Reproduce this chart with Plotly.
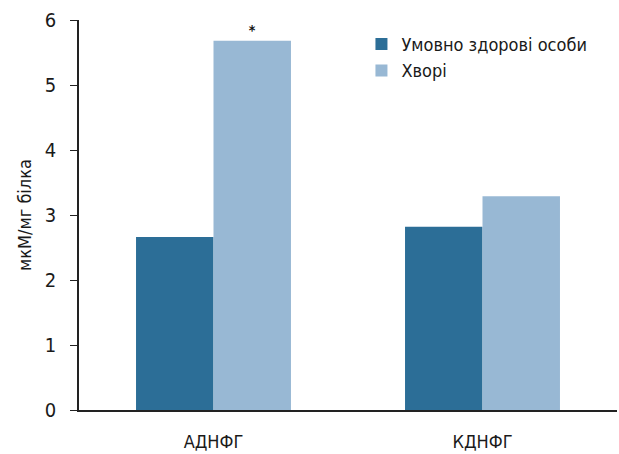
import plotly.graph_objects as go

categories = ["АДНФГ", "КДНФГ"]
healthy = [2.66, 2.82]
patients = [5.68, 3.29]
series_names = ["Умовно здорові особи", "Хворі"]
y_ticks = [0, 1, 2, 3, 4, 5, 6]

FONT = "DejaVu Sans Condensed, Liberation Sans Narrow, sans-serif"

fig = go.Figure()
fig.add_trace(go.Bar(x=categories, y=healthy, name=series_names[0],
                     marker=dict(color="#2c6e97", line=dict(width=0))))
fig.add_trace(go.Bar(x=categories, y=patients, name=series_names[1],
                     marker=dict(color="#98b8d4", line=dict(width=0)),
                     text=["<b>*</b>", ""], textposition="outside",
                     textfont=dict(size=14, color="#111111"),
                     cliponaxis=False))

fig.update_layout(
    width=619, height=454,
    margin=dict(l=79, r=2, t=20, b=44),
    paper_bgcolor="white", plot_bgcolor="white",
    barmode="group", bargap=0.424, bargroupgap=0,
    font=dict(family=FONT, size=18, color="#1a1a1a"),
    showlegend=True,
    legend=dict(x=0.525, y=0.985, xanchor="left", yanchor="top",
                font=dict(family=FONT, size=18, color="#1a1a1a"),
                bgcolor="rgba(0,0,0,0)", itemwidth=30, tracegroupgap=0),
)
fig.update_xaxes(showline=True, linecolor="#222222", linewidth=1.5,
                 ticks="", showgrid=False, range=[-0.5, 1.5],
                 ticklabelstandoff=15,
                 tickfont=dict(family=FONT, size=18))
fig.update_yaxes(range=[0, 6], tickvals=y_ticks, showline=True,
                 linecolor="#222222", linewidth=1.5, ticks="outside",
                 ticklen=7, tickcolor="#222222", showgrid=False,
                 zeroline=False, ticklabelstandoff=10,
                 title=dict(text="мкМ/мг білка", font=dict(family=FONT, size=18),
                            standoff=8),
                 tickfont=dict(family=FONT, size=20))

fig.write_html("out.html")
